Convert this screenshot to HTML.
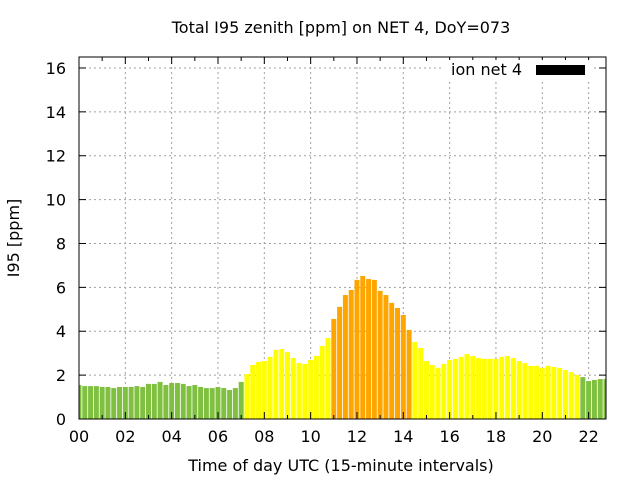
<!DOCTYPE html>
<html><head><meta charset="utf-8"><style>
body{margin:0;background:#fff;}
svg{display:block;font-family:"DejaVu Sans","Liberation Sans",sans-serif;}
</style></head><body>
<svg id="chart" width="640" height="480" viewBox="0 0 640 480">
<rect width="640" height="480" fill="#fff"/>
<text x="341" y="33" font-size="16" text-anchor="middle">Total I95 zenith [ppm] on NET 4, DoY=073</text>
<g id="grid"></g>
<g id="bars"></g>
<g id="axes"></g>
<text x="341" y="471" font-size="16" text-anchor="middle">Time of day UTC (15-minute intervals)</text>
<text transform="translate(19,238) rotate(-90)" font-size="16" text-anchor="middle">I95 [ppm]</text>
<g>
<rect x="442" y="60" width="150" height="22" fill="#fff"/>
<text x="522" y="75" font-size="16" text-anchor="end">ion net 4</text>
<rect x="536" y="65" width="49" height="10" fill="#000"/>
</g>
</svg>
<script>
const values=[1.55,1.50,1.50,1.50,1.46,1.46,1.41,1.46,1.46,1.46,1.50,1.46,1.60,1.60,1.69,1.55,1.64,1.64,1.60,1.50,1.55,1.46,1.41,1.41,1.46,1.41,1.32,1.41,1.69,
2.05,2.46,2.60,2.64,2.83,3.15,3.19,3.05,2.78,2.55,2.51,2.69,2.87,3.33,3.69,
4.56,5.11,5.65,5.88,6.34,6.52,6.38,6.34,5.84,5.65,5.29,5.06,4.74,4.06,
3.51,3.24,2.64,2.46,2.33,2.51,2.69,2.74,2.83,2.96,2.87,2.78,2.74,2.74,2.74,2.83,2.87,2.78,2.64,2.55,2.42,2.42,2.33,2.42,2.37,2.33,2.23,2.14,2.01,
1.91,1.73,1.78,1.82,1.82];
const xTicks=["00","02","04","06","08","10","12","14","16","18","20","22"];
const yTicks=[0,2,4,6,8,10,12,14,16];
const L=79,R=606,T=57,B=419,XMAX=22.75,YMAX=16.5;
const xs=h=>L+h/XMAX*(R-L);
const ys=v=>B-v/YMAX*(B-T);
const NS="http://www.w3.org/2000/svg";
function mk(tag,attrs,parent){const e=document.createElementNS(NS,tag);for(const k in attrs)e.setAttribute(k,attrs[k]);document.getElementById(parent).appendChild(e);return e;}
function color(v){return v<2?"#80c040":(v<4?"#ffff00":"#ffa500");}
yTicks.forEach(v=>{if(v===0)return;const g=mk("line",{x1:L,x2:R,y1:ys(v),y2:ys(v),stroke:"#a0a0a0","stroke-dasharray":"2,3"},"grid");

});
xTicks.forEach(t=>{const x=xs(+t);if(+t===0)return;const g=mk("line",{x1:x,x2:x,y1:T,y2:B,stroke:"#a0a0a0","stroke-dasharray":"2,3"},"grid");

});
const bw=(R-L)/XMAX*0.25*0.86;
values.forEach((v,i)=>{const c=xs(i*0.25);let x0=Math.max(L,c-bw/2),x1=Math.min(R,c+bw/2);
const r=mk("rect",{x:x0,y:ys(v),width:x1-x0,height:B-ys(v),fill:color(v)},"bars");

});
const f=mk("rect",{x:L,y:T,width:R-L,height:B-T,fill:"none",stroke:"#000","stroke-width":1},"axes");


yTicks.forEach(v=>{const y=ys(v);
mk("line",{x1:L,x2:L+7,y1:y,y2:y,stroke:"#000"},"axes");
mk("line",{x1:R-7,x2:R,y1:y,y2:y,stroke:"#000"},"axes");
const t=mk("text",{x:L-13,y:y+6,"font-size":16,"text-anchor":"end"},"axes");t.textContent=v;

});
xTicks.forEach(s=>{const x=xs(+s);
mk("line",{x1:x,x2:x,y1:B,y2:B-7,stroke:"#000"},"axes");
mk("line",{x1:x,x2:x,y1:T,y2:T+7,stroke:"#000"},"axes");
const t=mk("text",{x:x,y:B+23,"font-size":16,"text-anchor":"middle"},"axes");t.textContent=s;

});
for(let h=1;h<=22;h+=2){const x=xs(h);mk("line",{x1:x,x2:x,y1:B,y2:B-4,stroke:"#000"},"axes");mk("line",{x1:x,x2:x,y1:T,y2:T+4,stroke:"#000"},"axes");}
</script>
</body></html>
